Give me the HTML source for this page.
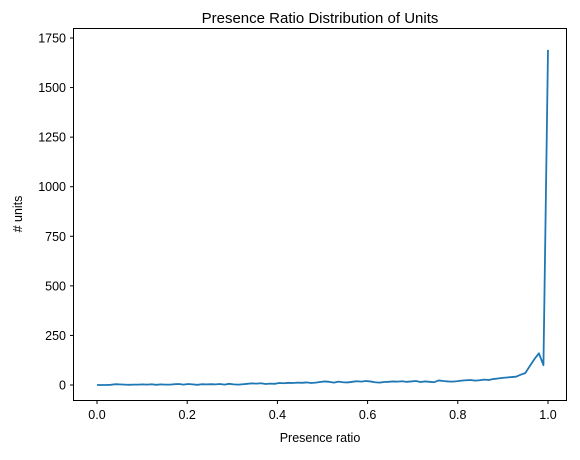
<!DOCTYPE html>
<html><head><meta charset="utf-8"><style>
body{margin:0;background:#fff;font-family:"Liberation Sans",sans-serif}
</style></head><body>
<svg id="c" width="580" height="455" xmlns="http://www.w3.org/2000/svg" font-family="Liberation Sans, sans-serif">
<text x="320" y="23" font-size="15" text-anchor="middle" fill="#000">Presence Ratio Distribution of Units</text>
<g id="ax"></g>
<path id="line" fill="none" stroke="#1f77b4" stroke-width="1.8" stroke-linejoin="round"/>
<rect x="73.5" y="28.5" width="493" height="372" fill="none" stroke="#000" stroke-width="1"/>
<text x="320" y="442" font-size="12.5" text-anchor="middle">Presence ratio</text>
<text transform="translate(22,214) rotate(-90)" font-size="12.5" text-anchor="middle"># units</text>
</svg>
<script>
const xTicks=[0,0.2,0.4,0.6,0.8,1.0];
const xTickLabels=["0.0","0.2","0.4","0.6","0.8","1.0"];
const yTicks=[0,250,500,750,1000,1250,1500,1750];
const counts=[0,0,0,1,4,3,2,1,2,2,
3,2,4,1,3,2,2,4,5,2,
5,3,1,4,3,4,3,5,2,6,
3,2,4,6,8,7,9,5,7,6,
10,9,11,10,12,11,13,10,12,15,
18,16,12,17,14,13,16,19,17,20,
18,14,12,15,16,18,17,19,16,18,
20,15,18,16,14,23,20,18,17,19,
22,24,25,22,24,27,25,30,33,36,
38,40,42,52,60,95,130,160,100,1690];
const xs=counts.map((_,i)=>i/(counts.length-1));
const X=v=>97+v*451, Y=v=>385-v*347/1750;
const ax=document.getElementById('ax'), NS='http://www.w3.org/2000/svg';
xTicks.forEach((t,i)=>{
 const l=document.createElementNS(NS,'line');
 l.setAttribute('x1',X(t));l.setAttribute('x2',X(t));l.setAttribute('y1',400.5);l.setAttribute('y2',404);l.setAttribute('stroke','#000');
 
 
 ax.appendChild(l);
 const tx=document.createElementNS(NS,'text');
 tx.setAttribute('x',X(t));tx.setAttribute('y',419);tx.setAttribute('font-size','12.5');tx.setAttribute('text-anchor','middle');
 tx.textContent=xTickLabels[i];
 
 
 ax.appendChild(tx);
});
yTicks.forEach(t=>{
 const l=document.createElementNS(NS,'line');
 l.setAttribute('x1',70);l.setAttribute('x2',73.5);l.setAttribute('y1',Y(t));l.setAttribute('y2',Y(t));l.setAttribute('stroke','#000');
 
 
 ax.appendChild(l);
 const tx=document.createElementNS(NS,'text');
 tx.setAttribute('x',66);tx.setAttribute('y',Y(t)+4.5);tx.setAttribute('font-size','12.5');tx.setAttribute('text-anchor','end');
 tx.textContent=t;
 
 
 ax.appendChild(tx);
});
document.getElementById('line').setAttribute('d',counts.map((c,i)=>(i?'L':'M')+X(xs[i]).toFixed(2)+','+Y(c).toFixed(2)).join(''));
</script>
</body></html>
